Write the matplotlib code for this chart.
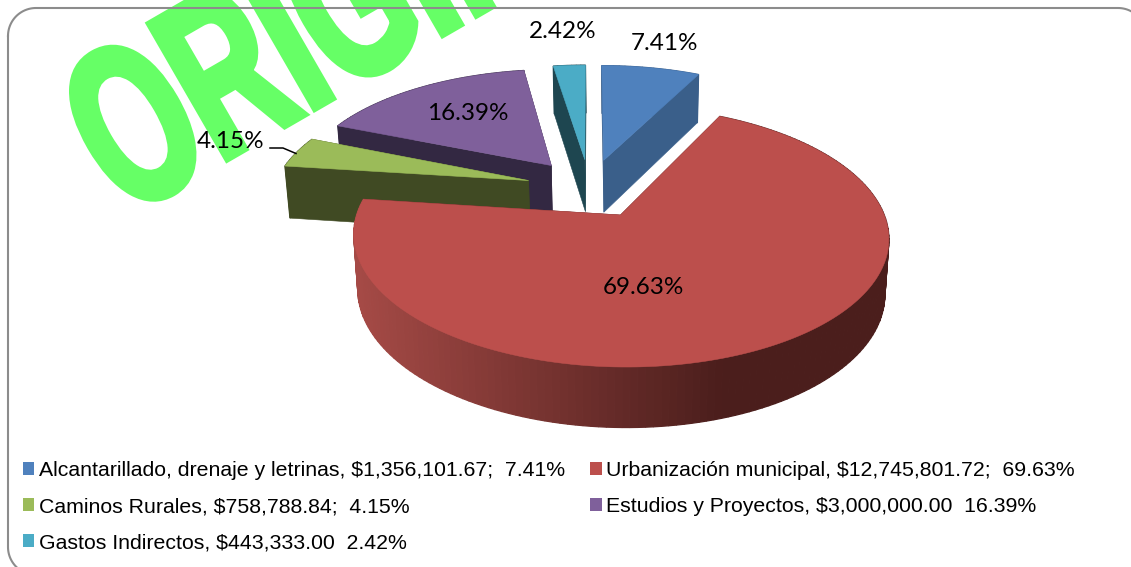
import numpy as np
import matplotlib
matplotlib.use("Agg")
import matplotlib.pyplot as plt
from matplotlib.patches import Polygon, Patch
from matplotlib.patheffects import AbstractPathEffect
from matplotlib.transforms import Affine2D
from matplotlib.colors import to_rgb

categories = ["Alcantarillado, drenaje y letrinas", "Urbanización municipal", "Caminos Rurales",
              "Estudios y Proyectos", "Gastos Indirectos"]
values = [1356101.67, 12745801.72, 758788.84, 3000000.00, 443333.00]
amount_labels = ["$1,356,101.67;  7.41%", "$12,745,801.72;  69.63%", "$758,788.84;  4.15%",
                 "$3,000,000.00  16.39%", "$443,333.00  2.42%"]
top_colors = ["#4F81BD", "#BC4F4C", "#9BBB59", "#7F609B", "#4BACC6"]
side_colors = ["#3A5F8A", "#4B1E1C", "#404A23", "#332842", "#1E4650"]
label_xy = [(665, 44), (643, 287), (231, 142), (468, 113), (563, 32)]

W, H = 1131, 567
CX, CY, A, B, K = 589.5, 188.0, 254.5, 118.0, 0.16
EXPLODE = 0.25

fig = plt.figure(figsize=(W / 100, H / 100), dpi=100)
ax = fig.add_axes([0, 0, 1, 1])
ax.set_xlim(0, W)
ax.set_ylim(H, 0)
ax.axis("off")


class Stretch(AbstractPathEffect):
    def __init__(self, sx, sy, lw):
        super().__init__()
        self.sx, self.sy, self.lw = sx, sy, lw

    def draw_path(self, renderer, gc, tpath, affine, rgbFace=None):
        gc0 = renderer.new_gc()
        gc0.copy_properties(gc)
        gc0.set_linewidth(self.lw)
        gc0.set_foreground(rgbFace)
        gc0.set_joinstyle("miter")
        renderer.draw_path(gc0, tpath, Affine2D().scale(self.sx, self.sy) + affine, rgbFace)
        gc0.restore()


ax.text(125, 218, "ORIGINAL", fontsize=120, family="Liberation Sans", weight="bold", color="#66FF66",
        rotation=30, rotation_mode="anchor", ha="left", va="baseline", zorder=1,
        path_effects=[Stretch(0.84, 1.36, 5.0)], clip_on=False)

# rounded frame of the chart area (right and bottom sides run past the picture)
fl, ft, fr, fb, rad = 8.0, 8.0, 1146.0, 575.0, 28.0
corner = np.linspace(0, np.pi / 2, 24)
fx = np.concatenate([fl + rad - rad * np.cos(corner), fr - rad + rad * np.sin(corner),
                     fr - rad + rad * np.cos(corner), fl + rad - rad * np.sin(corner), [fl]])
fy = np.concatenate([ft + rad - rad * np.sin(corner), ft + rad - rad * np.cos(corner),
                     fb - rad + rad * np.sin(corner), fb - rad + rad * np.cos(corner), [ft + rad]])
ax.plot(fx, fy, color="#8C8C8C", lw=1.5, zorder=2, clip_on=True)


def project(X, Y):
    s = 1.0 / (1.0 + K * Y)
    return CX + A * X * s, CY - B * Y * s, s


def lower(px, py, s):
    return 620 + (px - 620) * 0.985, py + 22 + 31 * s


fractions = np.array(values) / np.sum(values)
edges = np.concatenate([[0], np.cumsum(fractions)]) * 2 * np.pi
draw_order = [4, 0, 3, 2, 1]
wall_left, wall_right = np.array(to_rgb("#A54A46")), np.array(to_rgb("#4B1E1C"))

for z, i in enumerate(draw_order):
    t0, t1 = edges[i], edges[i + 1]
    mid = (t0 + t1) / 2
    ax0, ay0 = EXPLODE * np.sin(mid), EXPLODE * np.cos(mid)
    th = np.linspace(t0, t1, max(int((t1 - t0) * 40), 8))
    X = np.concatenate([[ax0], ax0 + np.sin(th)])
    Y = np.concatenate([[ay0], ay0 + np.cos(th)])
    px, py, s = project(X, Y)
    lx, ly = lower(px, py, s)
    base = 10 + z * 3
    # cut faces
    for k in (1, len(px) - 1):
        ax.add_patch(Polygon([(px[0], py[0]), (px[k], py[k]), (lx[k], ly[k]), (lx[0], ly[0])],
                             closed=True, fc=side_colors[i], ec=side_colors[i], lw=0.4, zorder=base))
    # outer wall
    for k in range(1, len(px) - 1):
        if i == 1:
            f = np.clip((px[k] - 358) / (725 - 358), 0, 1)
            c = tuple(wall_left + (wall_right - wall_left) * f)
        else:
            c = side_colors[i]
        ax.add_patch(Polygon([(px[k], py[k]), (px[k + 1], py[k + 1]), (lx[k + 1], ly[k + 1]), (lx[k], ly[k])],
                             closed=True, fc=c, ec=c, lw=0.9, zorder=base + 1))
    ax.add_patch(Polygon(np.column_stack([px, py]), closed=True, fc=top_colors[i], ec=top_colors[i],
                         lw=0.4, zorder=base + 2))

for f, xy in zip(fractions, label_xy):
    ax.text(xy[0], xy[1], f"{f * 100:.2f}%", fontsize=17.5, family="Lato", color="black",
            ha="center", va="center", zorder=40)

ax.plot([270, 283, 296], [148, 148, 153.5], color="black", lw=1.1, zorder=40)

legend_order = [0, 2, 4, 1, 3]
handles = [Patch(facecolor=top_colors[i], edgecolor="none",
                 label=f"{categories[i]}, {amount_labels[i]}") for i in legend_order]
ax.legend(handles=handles, ncol=2, loc="upper left", bbox_to_anchor=(23, 461), bbox_transform=ax.transData,
          frameon=False, prop={"family": "Liberation Sans", "size": 15.35}, borderpad=0, borderaxespad=0,
          handlelength=0.52, handleheight=0.52, handletextpad=0.22, labelspacing=0.8, columnspacing=1.2,
          labelcolor="black")

fig.savefig("out.png", dpi=100)
